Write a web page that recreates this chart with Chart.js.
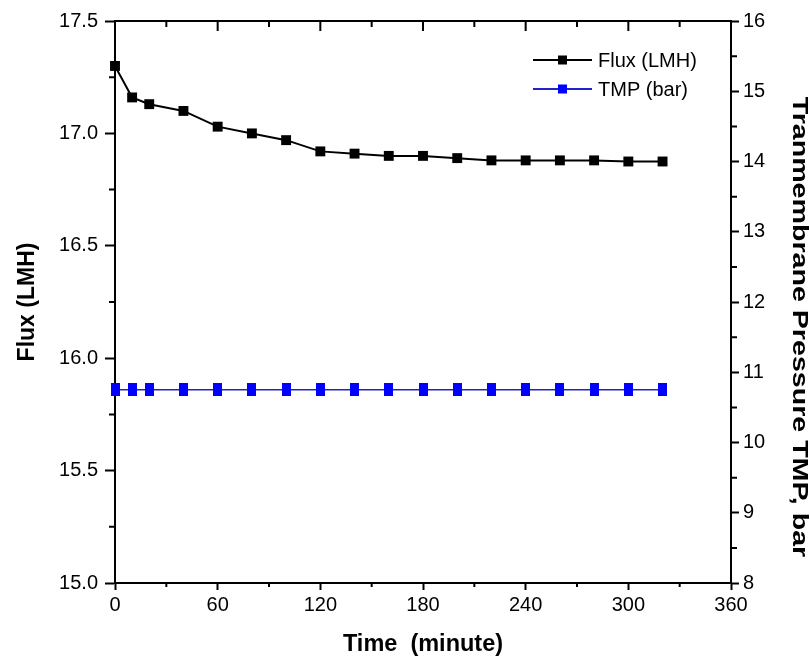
<!DOCTYPE html>
<html>
<head>
<meta charset="utf-8">
<script src="https://cdn.jsdelivr.net/npm/chart.js@4"></script>
<style>
  html, body { margin: 0; padding: 0; background: #fff; }
  #wrap { width: 810px; height: 663px; }
</style>
</head>
<body>
<div id="wrap"><canvas id="fluxChart"></canvas></div>
<script>
// time (minute)
const times = [0, 10, 20, 40, 60, 80, 100, 120, 140, 160, 180, 200, 220, 240, 260, 280, 300, 320];
// flux (LMH), left axis
const flux = [17.30, 17.16, 17.13, 17.10, 17.03, 17.00, 16.97, 16.92, 16.91, 16.90, 16.90, 16.89, 16.88, 16.88, 16.88, 16.88, 16.875, 16.875];
// transmembrane pressure (bar), right axis
const tmp = [10.75, 10.75, 10.75, 10.75, 10.75, 10.75, 10.75, 10.75, 10.75, 10.75, 10.75, 10.75, 10.75, 10.75, 10.75, 10.75, 10.75, 10.75];

const FONT = "'Liberation Sans', Arial, sans-serif";
const RIGHT_TITLE = 'Tranmembrane Pressure TMP, bar';

// tall blue marker used by the TMP series
const blueMark = document.createElement('canvas');
blueMark.width = 9;
blueMark.height = 13;
const bm = blueMark.getContext('2d');
bm.fillStyle = '#0000ff';
bm.fillRect(0, 0, 9, 13);

// top frame, inward ticks on top, short minor ticks between the major ones
const frameTicks = {
    id: 'frameTicks',
    afterDraw(chart) {
        const { ctx, chartArea } = chart;
        const xs = chart.scales.x;
        ctx.save();
        ctx.strokeStyle = '#000';
        ctx.lineWidth = 2;
        ctx.beginPath();
        ctx.moveTo(chartArea.left - 1, chartArea.top);
        ctx.lineTo(chartArea.right + 1, chartArea.top);
        const xv = xs.ticks.map(t => t.value);
        xv.forEach((v, i) => {
            const px = xs.getPixelForValue(v);
            ctx.moveTo(px, chartArea.top);
            ctx.lineTo(px, chartArea.top + 10);
            if (i < xv.length - 1) {
                const pm = xs.getPixelForValue((v + xv[i + 1]) / 2);
                ctx.moveTo(pm, chartArea.top);
                ctx.lineTo(pm, chartArea.top + 6);
                ctx.moveTo(pm, chartArea.bottom);
                ctx.lineTo(pm, chartArea.bottom + 4);
            }
        });
        ['y', 'y2'].forEach(id => {
            const s = chart.scales[id];
            const vals = s.ticks.map(t => t.value);
            const x0 = id === 'y' ? chartArea.left : chartArea.right;
            const dir = id === 'y' ? -1 : 1;
            for (let i = 0; i < vals.length - 1; i++) {
                const pm = s.getPixelForValue((vals[i] + vals[i + 1]) / 2);
                ctx.moveTo(x0, pm);
                ctx.lineTo(x0 + dir * 6, pm);
            }
        });
        ctx.stroke();

        // right axis title, drawn stretched along its length like the original
        ctx.fillStyle = '#000';
        ctx.font = 'bold 22px ' + FONT;
        ctx.textAlign = 'center';
        ctx.textBaseline = 'middle';
        ctx.translate(chart.width - 11, (chartArea.top + chartArea.bottom) / 2 + 25);
        ctx.rotate(Math.PI / 2);
        ctx.scale(1.3, 1);
        ctx.fillText(RIGHT_TITLE, 0, 0);
        ctx.restore();
    }
};

// legend in the upper right of the plot
const boxLegend = {
    id: 'boxLegend',
    afterDatasetsDraw(chart) {
        const { ctx, chartArea } = chart;
        ctx.save();
        ctx.font = '20px ' + FONT;
        ctx.textBaseline = 'middle';
        chart.data.datasets.forEach((ds, i) => {
            const y = chartArea.top + 39 + i * 29;
            const x0 = chartArea.right - 198;
            const x1 = chartArea.right - 139;
            ctx.strokeStyle = ds.borderColor;
            ctx.lineWidth = 2;
            ctx.beginPath();
            ctx.moveTo(x0, y);
            ctx.lineTo(x1, y);
            ctx.stroke();
            ctx.fillStyle = ds.legendMark;
            ctx.fillRect((x0 + x1) / 2 - 4.5, y - 4.5, 9, 9);
            ctx.fillStyle = '#000';
            ctx.fillText(ds.label, chartArea.right - 133, y + 1);
        });
        ctx.restore();
    }
};

new Chart(document.getElementById('fluxChart'), {
    type: 'line',
    data: {
        datasets: [
            {
                label: 'Flux (LMH)',
                data: times.map((t, i) => ({ x: t, y: flux[i] })),
                yAxisID: 'y',
                borderColor: '#000000',
                backgroundColor: '#000000',
                legendMark: '#000000',
                borderWidth: 2,
                pointStyle: 'rect',
                pointRadius: 7,
                pointBorderWidth: 0,
                tension: 0,
                clip: false
            },
            {
                label: 'TMP (bar)',
                data: times.map((t, i) => ({ x: t, y: tmp[i] })),
                yAxisID: 'y2',
                borderColor: '#2222cc',
                backgroundColor: '#0000ff',
                legendMark: '#0000ff',
                borderWidth: 1.5,
                pointStyle: blueMark,
                tension: 0,
                clip: false
            }
        ]
    },
    options: {
        responsive: true,
        maintainAspectRatio: false,
        animation: false,
        events: [],
        layout: { padding: { top: 21, left: 0, right: 0, bottom: 0 } },
        plugins: {
            legend: { display: false },
            tooltip: { enabled: false }
        },
        scales: {
            x: {
                type: 'linear',
                min: 0,
                max: 360,
                afterFit: s => { s.height = 80; },
                border: { color: '#000', width: 2 },
                grid: { drawOnChartArea: false, tickLength: 7, tickColor: '#000', tickWidth: 2 },
                ticks: {
                    stepSize: 60,
                    autoSkip: false,
                    maxRotation: 0,
                    padding: 3,
                    color: '#000',
                    font: { family: FONT, size: 20 }
                },
                title: {
                    display: true,
                    text: 'Time  (minute)',
                    color: '#000',
                    font: { family: FONT, size: 23.5, weight: 'bold' },
                    padding: { top: 0, bottom: 4 }
                }
            },
            y: {
                position: 'left',
                min: 15,
                max: 17.5,
                afterFit: s => { s.width = 115; },
                border: { color: '#000', width: 2 },
                grid: { drawOnChartArea: false, tickLength: 10, tickColor: '#000', tickWidth: 2 },
                ticks: {
                    stepSize: 0.5,
                    autoSkip: false,
                    padding: 7,
                    color: '#000',
                    font: { family: FONT, size: 20 },
                    callback: v => v.toFixed(1)
                },
                title: {
                    display: true,
                    text: 'Flux (LMH)',
                    color: '#000',
                    font: { family: FONT, size: 23, weight: 'bold' },
                    padding: { top: 14, bottom: 0 }
                }
            },
            y2: {
                position: 'right',
                min: 8,
                max: 16,
                afterFit: s => { s.width = 79; },
                border: { color: '#000', width: 2 },
                grid: { drawOnChartArea: false, tickLength: 8, tickColor: '#000', tickWidth: 2 },
                ticks: {
                    stepSize: 1,
                    autoSkip: false,
                    padding: 4,
                    color: '#000',
                    font: { family: FONT, size: 20 }
                },
                title: { display: false }
            }
        }
    },
    plugins: [frameTicks, boxLegend]
});
</script>
</body>
</html>
